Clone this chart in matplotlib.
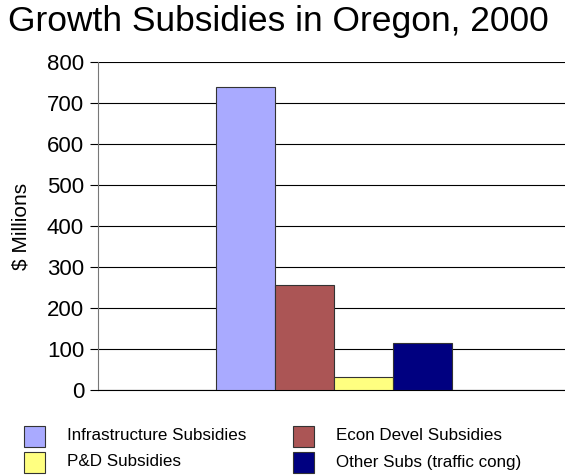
import matplotlib
matplotlib.use("Agg")
import matplotlib.pyplot as plt
from matplotlib.patches import Rectangle

plt.rcParams["font.family"] = ["Liberation Sans", "DejaVu Sans"]

categories = ["Infrastructure Subsidies", "Econ Devel Subsidies",
              "P&D Subsidies", "Other Subs (traffic cong)"]
values = [739, 256, 32, 115]
colors = ["#a9aaff", "#ab5555", "#ffff80", "#000080"]
yticks = [0, 100, 200, 300, 400, 500, 600, 700, 800]

W, H = 565, 475
fig = plt.figure(figsize=(W / 100, H / 100), dpi=100)
ax = fig.add_axes([98 / W, 1 - 390 / H, 1 - 98 / W, (390 - 62) / H])

xs = range(len(values))
ax.bar(xs, values, width=1.0, color=colors, edgecolor="#333333", linewidth=0.8, zorder=3)

ax.set_xlim(-2.5, 5.42)
ax.set_ylim(0, 800)
ax.set_yticks(yticks)
ax.set_xticks([])
ax.tick_params(axis="y", labelsize=16, length=6, width=0.8, direction="out", pad=4)
ax.grid(axis="y", color="black", linewidth=0.8, zorder=0)
for s in ["top", "right"]:
    ax.spines[s].set_visible(False)
ax.spines["left"].set_color("#777777")
ax.spines["bottom"].set_color("black")
ax.set_ylabel("$ Millions", fontsize=15, labelpad=12)

fig.text(8 / W, 1 - 22 / H, "Growth Subsidies in Oregon, 2000", fontsize=25.5,
         va="center", ha="left")

# legend laid out by hand: two columns, two rows
patch_x = [24, 293]
text_x = [67, 336]
row_y = [436, 462]
slots = [(0, 0), (1, 0), (0, 1), (1, 1)]  # (col, row) per category
for (col, row), label, c in zip(slots, categories, colors):
    px, py = patch_x[col], row_y[row]
    fig.add_artist(Rectangle((px / W, 1 - (py + 10.5) / H), 21 / W, 21 / H,
                             transform=fig.transFigure, facecolor=c,
                             edgecolor="#333333", linewidth=0.8))
    fig.text(text_x[col] / W, 1 - py / H, label, fontsize=12.25, va="center", ha="left")

fig.savefig("out.png", dpi=100)
